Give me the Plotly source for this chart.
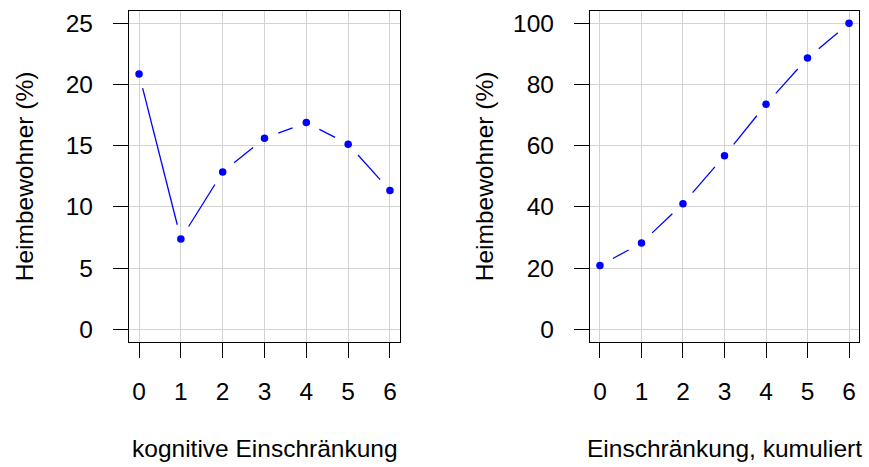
import math
import plotly.graph_objects as go

# ---- data ----
levels = [0, 1, 2, 3, 4, 5, 6]
pct = [20.85, 7.38, 12.84, 15.6, 16.88, 15.12, 11.34]
cum_pct = [20.85, 28.2, 41.05, 56.7, 73.5, 88.6, 100.0]
x_ticks = [0, 1, 2, 3, 4, 5, 6]
y_ticks_left = [0, 5, 10, 15, 20, 25]
y_ticks_right = [0, 20, 40, 60, 80, 100]
xlab_left = "kognitive Einschränkung"
xlab_right = "Einschränkung, kumuliert"
ylab = "Heimbewohner (%)"

# ---- layout geometry (pixels) ----
W, H = 869, 467
box_top, box_bot = 10, 342
left_box = (129, 400)
right_box = (590, 859)
xr = [-0.24, 6.24]
yr_left = [-1, 26]
yr_right = [-4, 104]
GAP = 14.7  # px gap around points (R type="b")
FONT = "Liberation Sans, Arial, Helvetica, sans-serif"
FS = 24.5
BLUE = "#0000FF"


def gapped(xs, ys, sx, sy, g):
    ox, oy = [], []
    for i in range(len(xs) - 1):
        x1, y1, x2, y2 = xs[i], ys[i], xs[i + 1], ys[i + 1]
        dx, dy = (x2 - x1) * sx, (y2 - y1) * sy
        L = math.hypot(dx, dy)
        if L <= 2 * g:
            continue
        t = g / L
        ox += [x1 + (x2 - x1) * t, x2 - (x2 - x1) * t, None]
        oy += [y1 + (y2 - y1) * t, y2 - (y2 - y1) * t, None]
    return ox, oy


fig = go.Figure()

panels = [
    (pct, "x", "y", left_box, yr_left, y_ticks_left),
    (cum_pct, "x2", "y2", right_box, yr_right, y_ticks_right),
]
for vals, xa, ya, box, yr, yt in panels:
    sx = (box[1] - box[0]) / (xr[1] - xr[0])
    sy = (box_bot - box_top) / (yr[1] - yr[0])
    lx, ly = gapped(levels, vals, sx, sy, GAP)
    fig.add_trace(go.Scatter(x=lx, y=ly, mode="lines", xaxis=xa, yaxis=ya,
                             line=dict(color=BLUE, width=1.3),
                             showlegend=False, hoverinfo="skip"))
    fig.add_trace(go.Scatter(x=levels, y=vals, mode="markers", xaxis=xa, yaxis=ya,
                             marker=dict(color=BLUE, size=7.5),
                             showlegend=False))

ydom = [1 - box_bot / H, 1 - box_top / H]


def xaxis(box, anchor):
    return dict(domain=[box[0] / W, box[1] / W], range=xr, anchor=anchor,
                tickmode="array", tickvals=x_ticks, ticks="outside", ticklen=15,
                tickwidth=1, tickcolor="black", showline=True, mirror=True,
                linecolor="black", linewidth=1.2, showgrid=True,
                gridcolor="#D3D3D3", gridwidth=1.2, zeroline=False,
                ticklabelstandoff=13,
                tickfont=dict(family=FONT, size=FS, color="black"))


def yaxis(yr, yt, anchor):
    return dict(domain=ydom, range=yr, anchor=anchor, tickmode="array",
                tickvals=yt, ticks="outside", ticklen=15, tickwidth=1,
                tickcolor="black", showline=True, mirror=True,
                linecolor="black", linewidth=1.2, showgrid=True,
                gridcolor="#D3D3D3", gridwidth=1.2, zeroline=False,
                ticklabelstandoff=15,
                tickfont=dict(family=FONT, size=FS, color="black"))


fig.update_layout(
    width=W, height=H, margin=dict(l=0, r=0, t=0, b=0),
    paper_bgcolor="white", plot_bgcolor="white",
    xaxis=xaxis(left_box, "y"), yaxis=yaxis(yr_left, y_ticks_left, "x"),
    xaxis2=xaxis(right_box, "y2"), yaxis2=yaxis(yr_right, y_ticks_right, "x2"),
    font=dict(family=FONT, size=FS, color="black"),
)

annos = [
    dict(text=xlab_left, x=(left_box[0] + left_box[1]) / 2 / W, y=1 - 449 / H),
    dict(text=xlab_right, x=(right_box[0] + right_box[1]) / 2 / W, y=1 - 449 / H),
    dict(text=ylab, x=24 / W, y=1 - 176 / H, textangle=-90),
    dict(text=ylab, x=484 / W, y=1 - 176 / H, textangle=-90),
]
for a in annos:
    fig.add_annotation(xref="paper", yref="paper", showarrow=False,
                       xanchor="center", yanchor="middle",
                       font=dict(family=FONT, size=FS, color="black"), **a)

fig.write_html("out.html")
